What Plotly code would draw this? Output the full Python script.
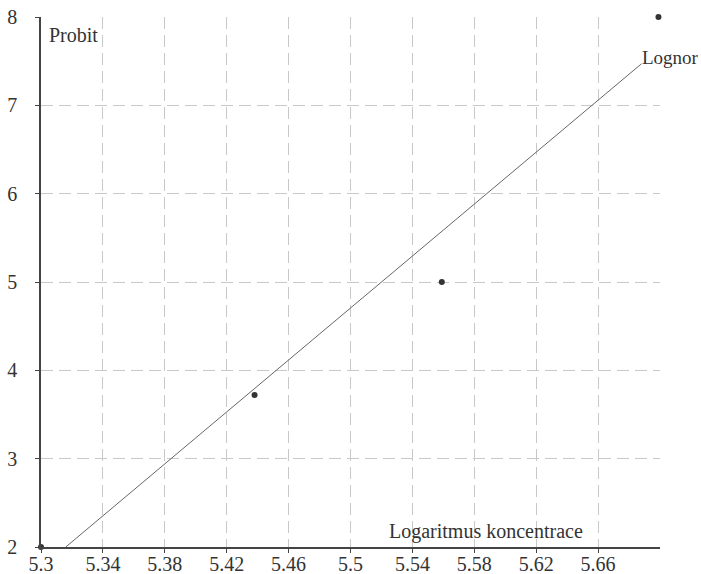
import plotly.graph_objects as go

# Data
log_conc = [5.30, 5.438, 5.559, 5.699]
probit = [2.0, 3.72, 5.0, 8.0]
fit_x = [5.316, 5.688]
fit_y = [2.0, 7.47]
fit_name = "Lognor"
x_ticks = [5.3, 5.34, 5.38, 5.42, 5.46, 5.5, 5.54, 5.58, 5.62, 5.66]
x_tick_labels = ["5.3", "5.34", "5.38", "5.42", "5.46", "5.5", "5.54", "5.58", "5.62", "5.66"]
y_ticks = [2, 3, 4, 5, 6, 7, 8]

font_family = "Liberation Serif, Times New Roman, serif"
fig = go.Figure()
fig.add_trace(go.Scatter(x=fit_x, y=fit_y, mode="lines",
                         line=dict(color="#666666", width=1), cliponaxis=False,
                         showlegend=False))
fig.add_trace(go.Scatter(x=log_conc, y=probit, mode="markers",
                         marker=dict(color="#333333", size=6), cliponaxis=False,
                         showlegend=False))

fig.add_annotation(x=fit_x[-1], y=fit_y[-1], text=fit_name, showarrow=False,
                   xanchor="left", yanchor="bottom", xshift=-1, yshift=-6,
                   font=dict(family=font_family, size=19, color="#333333"))
fig.add_annotation(x=5.3, y=8, text="Probit", showarrow=False,
                   xanchor="left", yanchor="top", xshift=6, yshift=-5,
                   font=dict(family=font_family, size=20, color="#333333"))
fig.add_annotation(x=5.6515, y=2, text="Logaritmus koncentrace", showarrow=False,
                   xanchor="right", yanchor="bottom", xshift=0, yshift=2,
                   font=dict(family=font_family, size=20, color="#333333"))

fig.update_xaxes(range=[5.3, 5.7], tickvals=x_ticks, ticktext=x_tick_labels,
                 showgrid=True, gridcolor="#c8c8c8", griddash="12px,6px", gridwidth=1,
                 showline=True, linecolor="#444444", linewidth=1.5,
                 ticks="outside", ticklen=4, tickcolor="#444444",
                 zeroline=False, automargin=False, ticklabelstandoff=-6,
                 tickfont=dict(family=font_family, size=20, color="#333333"))
fig.update_yaxes(range=[2, 8], tickvals=y_ticks,
                 showgrid=True, gridcolor="#c8c8c8", griddash="12px,6px", gridwidth=1,
                 showline=True, linecolor="#444444", linewidth=1.5,
                 ticks="outside", ticklen=4, tickcolor="#444444",
                 zeroline=False, ticklabelstandoff=14, automargin=False,
                 tickfont=dict(family=font_family, size=20, color="#333333"))
fig.update_layout(width=701, height=574, plot_bgcolor="white", paper_bgcolor="white",
                  margin=dict(l=41, r=41, t=17, b=27, autoexpand=False), showlegend=False)
fig.write_html("out.html", config={"displayModeBar": False},
               post_script="document.body.style.margin='0';document.body.style.overflow='hidden';")
